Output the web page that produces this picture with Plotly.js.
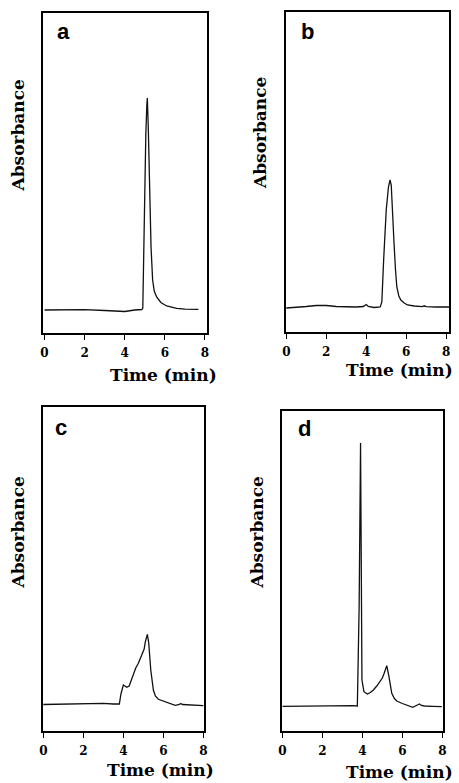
<!DOCTYPE html>
<html>
<head>
<meta charset="utf-8">
<script src="https://cdn.plot.ly/plotly-3.0.1.min.js"></script>
<style>html,body{margin:0;padding:0;background:#fff;}#chart{width:459px;height:783px;}</style>
</head>
<body>
<div id="chart"></div>
<script>
// ---- data (time in min, absorbance in arbitrary units) ----
const timeA = [0, 1.0, 2.0, 3.0, 4.0, 4.5, 4.85, 4.90, 4.975, 5.05, 5.10, 5.125, 5.17, 5.225, 5.31, 5.39, 5.47, 5.59, 5.8, 6.09, 6.59, 7.0, 7.67];
const absA  = [0, 0.005, 0.003, -0.005, -0.015, 0, 0.005, 0.02, 0.97, 1.75, 2.05, 2.12, 1.85, 1.30, 0.63, 0.30, 0.19, 0.13, 0.075, 0.04, 0.017, 0.008, 0.007];

const timeB = [0, 0.5, 1.0, 1.5, 2.0, 2.5, 3.0, 3.5, 3.85, 4.0, 4.1, 4.4, 4.7, 4.78, 4.87, 5.0, 5.11, 5.19, 5.25, 5.32, 5.39, 5.46, 5.53, 5.63, 5.73, 5.9, 6.06, 6.4, 6.8, 6.9, 7.0, 7.5, 8.0, 8.15];
const absB  = [-0.01, -0.005, 0.005, 0.015, 0.015, 0.005, 0, 0, 0.005, 0.025, 0.005, -0.005, 0, 0.05, 0.47, 0.97, 1.20, 1.27, 1.22, 0.99, 0.64, 0.38, 0.20, 0.11, 0.07, 0.04, 0.02, 0.01, 0.003, 0.012, 0.003, 0, 0, 0];

const timeC = [0, 1.0, 2.0, 3.0, 3.5, 3.8, 3.88, 3.95, 4.0, 4.08, 4.17, 4.29, 4.4, 4.5, 4.62, 4.75, 4.87, 4.97, 5.04, 5.1, 5.2, 5.27, 5.37, 5.5, 5.6, 5.75, 6.17, 6.59, 6.8, 6.87, 6.95, 7.2, 7.6, 8.0];
const absC  = [-0.005, -0.003, 0.005, 0.007, 0, 0, 0.10, 0.17, 0.19, 0.18, 0.167, 0.18, 0.24, 0.307, 0.36, 0.407, 0.46, 0.507, 0.55, 0.623, 0.697, 0.607, 0.34, 0.14, 0.08, 0.047, 0.013, -0.013, -0.005, 0.005, -0.005, -0.007, -0.015, -0.017];

const timeD = [0, 1.0, 2.0, 3.0, 3.5, 3.75, 3.76, 3.84, 3.91, 3.94, 3.96, 3.98, 4.08, 4.25, 4.4, 4.55, 4.72, 4.89, 5.0, 5.09, 5.22, 5.33, 5.47, 5.6, 5.72, 6.0, 6.22, 6.52, 6.75, 6.85, 6.95, 7.1, 7.5, 7.97];
const absD  = [-0.003, 0, 0.005, 0.005, 0.003, 0, 0.08, 1.00, 2.63, 1.20, 0.45, 0.26, 0.143, 0.12, 0.135, 0.16, 0.20, 0.243, 0.28, 0.327, 0.403, 0.293, 0.127, 0.075, 0.05, 0.025, 0.01, -0.013, 0.01, 0.02, 0.005, 0, -0.003, -0.007];

const panelLetters = ['a', 'b', 'c', 'd'];
const xTickVals = [0, 2, 4, 6, 8];
const xTitle = 'Time (min)';
const yTitle = 'Absorbance';

// ---- layout helpers ----
const W = 459, H = 783;
const px = x => x / W;
const py = y => 1 - y / H;

const serif = 'DejaVu Serif';
const sans = 'Liberation Sans, Arial, sans-serif';

const panels = [
  {t: timeA, a: absA, fx: [43, 207], fy: [13, 333], xr: [-0.075, 8.10], yr: [-0.23, 2.97],
   letter: [63, 32], yt: [17.5, 135], xt: [163, 375]},
  {t: timeB, a: absB, fx: [285.7, 449], fy: [12, 332], xr: [-0.03, 8.14], yr: [-0.25, 2.95],
   letter: [307, 31], yt: [260, 133], xt: [399, 370]},
  {t: timeC, a: absC, fx: [42.7, 204], fy: [407, 731], xr: [-0.03, 8.03], yr: [-0.27, 2.97],
   letter: [61, 427], yt: [17.5, 532], xt: [160, 770]},
  {t: timeD, a: absD, fx: [282.3, 443], fy: [411, 731], xr: [0, 8.03], yr: [-0.25, 2.95],
   letter: [304, 428], yt: [256.5, 532], xt: [399, 772]}
];

const data = [];
const layout = {
  width: W, height: H,
  margin: {l: 0, r: 0, t: 0, b: 0},
  paper_bgcolor: '#fff', plot_bgcolor: '#fff',
  showlegend: false,
  annotations: []
};

panels.forEach((p, i) => {
  const n = i === 0 ? '' : String(i + 1);
  data.push({
    x: p.t, y: p.a, type: 'scatter', mode: 'lines',
    xaxis: 'x' + n, yaxis: 'y' + n,
    line: {color: '#111', width: 1.3, shape: 'linear'},
    hoverinfo: 'skip'
  });
  layout['xaxis' + n] = {
    domain: [px(p.fx[0]), px(p.fx[1])],
    range: p.xr, anchor: 'y' + n,
    showline: true, mirror: true, linecolor: '#000', linewidth: 2,
    showgrid: false, zeroline: false,
    ticks: 'outside', ticklen: 5, tickwidth: 1, tickcolor: '#000',
    tickmode: 'array', tickvals: xTickVals,
    ticklabelstandoff: 3,
    tickfont: {family: serif, size: 12, color: '#000', weight: 700}
  };
  layout['yaxis' + n] = {
    domain: [py(p.fy[1]), py(p.fy[0])],
    range: p.yr, anchor: 'x' + n,
    showline: true, mirror: true, linecolor: '#000', linewidth: 2,
    showgrid: false, zeroline: false,
    ticks: '', showticklabels: false
  };
  layout.annotations.push({
    xref: 'paper', yref: 'paper', x: px(p.letter[0]), y: py(p.letter[1]),
    xanchor: 'center', yanchor: 'middle', showarrow: false,
    text: '<b>' + panelLetters[i] + '</b>',
    font: {family: sans, size: 22, color: '#000'}
  });
  layout.annotations.push({
    xref: 'paper', yref: 'paper', x: px(p.yt[0]), y: py(p.yt[1]),
    xanchor: 'center', yanchor: 'middle', showarrow: false, textangle: -90,
    text: '<b>' + yTitle + '</b>',
    font: {family: serif, size: 17, color: '#000'}
  });
  layout.annotations.push({
    xref: 'paper', yref: 'paper', x: px(p.xt[0]), y: py(p.xt[1]),
    xanchor: 'center', yanchor: 'middle', showarrow: false,
    text: '<b>' + xTitle + '</b>',
    font: {family: serif, size: 17, color: '#000'}
  });
});

Plotly.newPlot('chart', data, layout, {staticPlot: true, displayModeBar: false});
</script>
</body>
</html>
